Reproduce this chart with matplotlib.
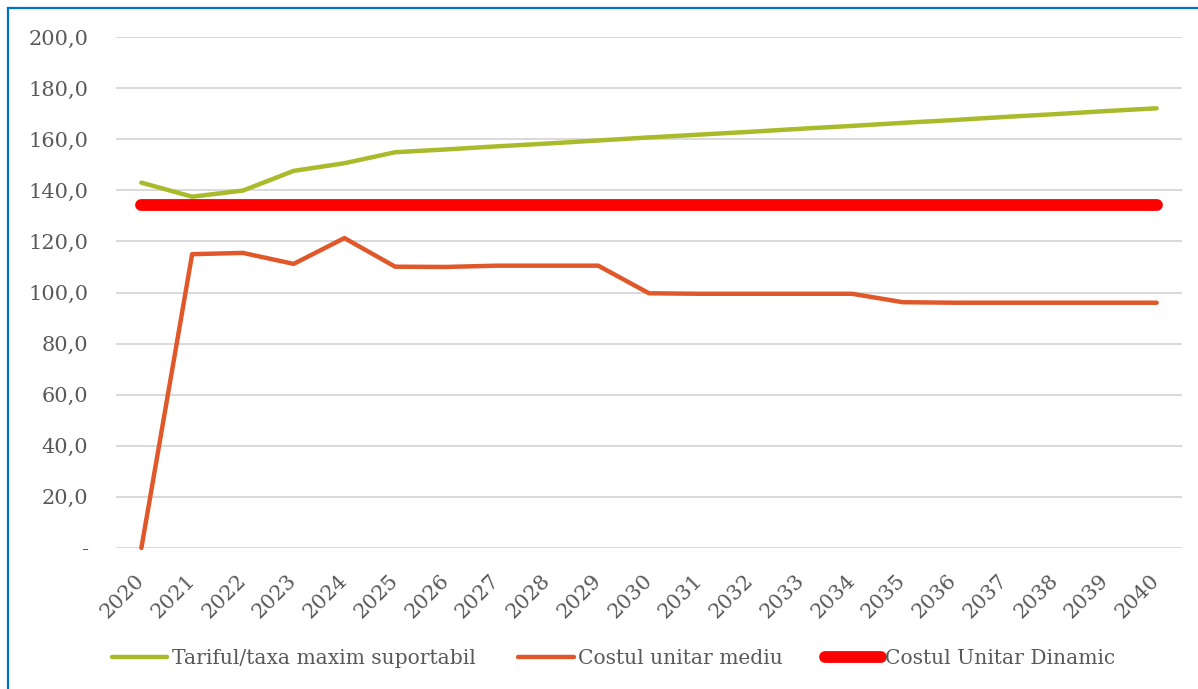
import matplotlib
matplotlib.use("Agg")
import matplotlib.pyplot as plt
from matplotlib.lines import Line2D
from matplotlib.ticker import FuncFormatter

years = [str(y) for y in range(2020, 2041)]
tarif_maxim = [143.0, 137.5, 139.9, 147.6, 150.6, 154.9, 156.0, 157.2, 158.3, 159.5,
               160.7, 161.8, 162.9, 164.1, 165.2, 166.4, 167.5, 168.7, 169.8, 171.0, 172.1]
cost_mediu = [0.0, 115.0, 115.5, 111.2, 121.3, 110.1, 110.0, 110.5, 110.5, 110.5,
              99.7, 99.5, 99.5, 99.5, 99.5, 96.2, 96.0, 96.0, 96.0, 96.0, 96.0]
cost_dinamic = [134.2] * len(years)

labels = ["Tariful/taxa maxim suportabil", "Costul unitar mediu", "Costul Unitar Dinamic"]
colors = ["#A9BA2A", "#E0582A", "#FF0000"]
text_color = "#595959"

plt.rcParams["font.family"] = ["DejaVu Serif"]

W, H = 1198, 689
fig = plt.figure(figsize=(W / 100, H / 100), dpi=100)
ax = fig.add_axes([116 / W, 1 - 548 / H, (1182 - 116) / W, (548 - 37) / H])

x = list(range(len(years)))
ax.plot(x, tarif_maxim, color=colors[0], lw=3.2, solid_capstyle="round",
        solid_joinstyle="round", label=labels[0], zorder=3)
ax.plot(x, cost_mediu, color=colors[1], lw=3.2, solid_capstyle="round",
        solid_joinstyle="round", label=labels[1], zorder=3)
ax.plot(x, cost_dinamic, color=colors[2], lw=8.5, solid_capstyle="round",
        label=labels[2], zorder=2)

ax.set_xlim(-0.5, len(years) - 0.5)
ax.set_ylim(0, 200)
ax.set_yticks(range(0, 201, 20))


def fmt(v, pos):
    if v == 0:
        return "-"
    return f"{v:.1f}".replace(".", ",")


ax.yaxis.set_major_formatter(FuncFormatter(fmt))
ax.set_xticks(x)
ax.set_xticklabels(years, rotation=45, ha="right", va="center", rotation_mode="anchor")
ax.grid(axis="y", color="#D9D9D9", lw=1.4)
ax.set_axisbelow(True)
for s in ax.spines.values():
    s.set_visible(False)
ax.tick_params(axis="both", length=0, colors=text_color, labelsize=15)
ax.tick_params(axis="y", pad=20)
ax.tick_params(axis="x", pad=21)
for t in ax.get_lines():
    t.set_clip_on(False)

leg = fig.legend(loc="center", bbox_to_anchor=(0.512, 1 - 659 / H), ncol=3, frameon=False,
                 fontsize=14.6, handlelength=2.75, handletextpad=0.2, columnspacing=2.1,
                 labelcolor=text_color)
for h in leg.get_lines():
    h.set_solid_capstyle("round")

# outer frame on the left and top edges
fig.add_artist(Line2D([8 / W, 8 / W], [0, 1 - 8 / H], color="#0070C0", lw=1.6,
                      transform=fig.transFigure))
fig.add_artist(Line2D([8 / W, 1], [1 - 8 / H, 1 - 8 / H], color="#0070C0", lw=1.6,
                      transform=fig.transFigure))

fig.savefig("out.png", dpi=100, facecolor="white")
